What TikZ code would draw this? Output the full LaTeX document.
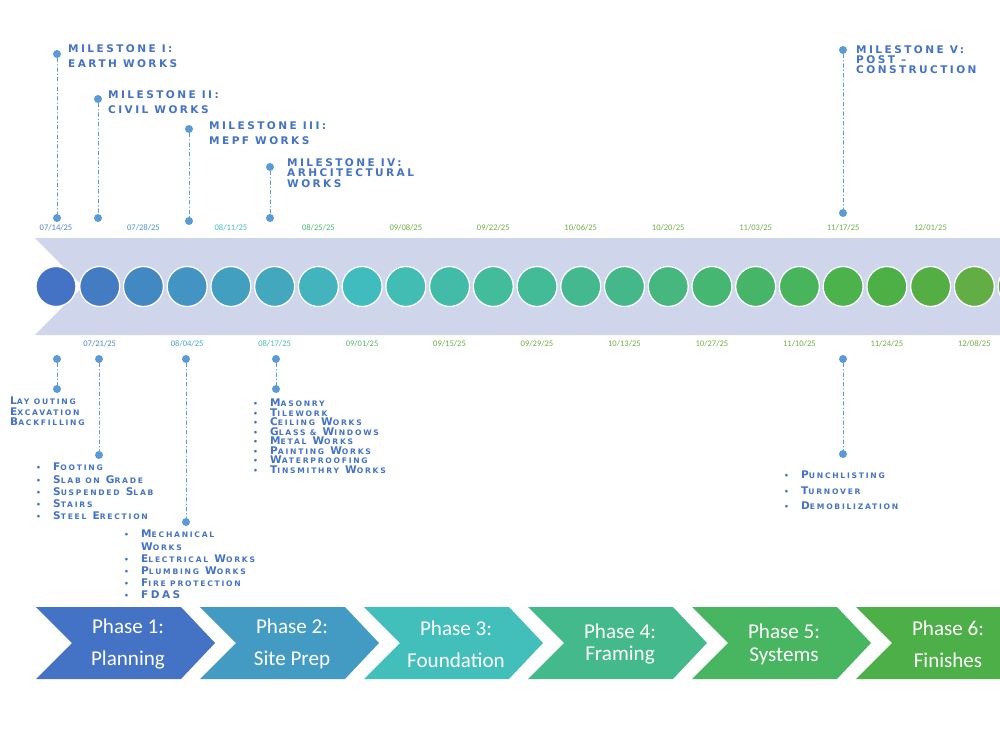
\documentclass[tikz,border=0pt]{standalone}
\usepackage{fontspec}
\setmainfont{Carlito}
\newfontfamily\msfont[LetterSpace=23]{DejaVu Sans}
\usepackage{tikz}
\usepackage{xcolor}

\definecolor{bandfill}{HTML}{CFD5EA}
\definecolor{msblue}{HTML}{5B9BD5}
\definecolor{txtblue}{HTML}{4472C4}

\newcommand\sm[1]{{\fontsize{6.5}{6.5}\selectfont #1}}
\newcommand\bul{\makebox[14.5pt][l]{\sm{\textbullet}}}
\newcommand\nob{\makebox[14.5pt][l]{}}

\begin{document}
\begin{tikzpicture}[x=0.3mm,y=-0.3mm,line cap=round,
  week/.style={circle,draw=white,line width=1.1pt,inner sep=0,minimum size=12mm},
  msdot/.style={circle,fill=msblue,inner sep=0,minimum size=2.4mm},
  link/.style={msblue,line width=0.8pt,dash pattern=on 3pt off 2.4pt on 0.4pt off 2.4pt},
  mstext/.style={anchor=north west,inner sep=0,align=left,text=txtblue,
    font=\msfont\bfseries\fontsize{9}{12.8}\selectfont},
  listtext/.style={anchor=north west,inner sep=0,align=left,text=txtblue,
    font=\msfont\bfseries\fontsize{9}{10.4}\selectfont},
  datelbl/.style={inner sep=0,font=\fontsize{7.3}{8}\selectfont},
  phasetext/.style={text=white,align=center,inner sep=0}]
\clip (0,0) rectangle (1000,750);
% timeline band
\fill[bandfill] (35,238) -- (1000,238) -- (1000,335) -- (35,335) -- (83,286.5) -- cycle;
% weekly circles
\foreach \c [count=\i from 0] in {4472C4,437CC3,4288C2,4393C3,439FBF,43A8BD,43B3BD,41BCBE,42BDB4,42BCA8,
  43BC9C,43BB96,44B990,45B889,45B77F,46B673,47B567,48B45B,4BB24C,4DB046,55AE44,62AE45,6AAE42}{
  \definecolor{wk}{HTML}{\c}
  \node[week,fill=wk] (c\i) at ({56+43.73*\i},286.5) {};
}
% dates above
\foreach \c/\d [count=\i from 0] in {4F7FC6/{07/14/25},4C94CA/{07/28/25},45BDBA/{08/11/25},4DB86E/{08/25/25},
  66B043/{09/08/25},6CAF40/{09/22/25},70AD47/{10/06/25},70AD47/{10/20/25},70AD47/{11/03/25},
  70AD47/{11/17/25},70AD47/{12/01/25}}{
  \definecolor{dt}{HTML}{\c}
  \node[datelbl,text=dt] (up\i) at ({56+87.46*\i},228) {\d};
}
% dates below
\foreach \c/\d [count=\i from 0] in {4B86C8/{07/21/25},47A5C6/{08/04/25},45BEAD/{08/17/25},53B668/{09/01/25},
  64B040/{09/15/25},70AD47/{09/29/25},70AD47/{10/13/25},70AD47/{10/27/25},70AD47/{11/10/25},
  70AD47/{11/24/25},70AD47/{12/08/25}}{
  \definecolor{dt}{HTML}{\c}
  \node[datelbl,text=dt] (dn\i) at ({99.7+87.46*\i},344) {\d};
}
% milestones
\node[msdot] (m1a) at (57,54) {};
\node[msdot] (m1b) at (57,218) {};
\draw[link] (m1a) -- (m1b);
\node[mstext] (m1) at (68,44) {MILESTONE I:\\EARTH WORKS};
\node[msdot] (m2a) at (98,99) {};
\node[msdot] (m2b) at (98,218) {};
\draw[link] (m2a) -- (m2b);
\node[mstext] (m2) at (108,90) {MILESTONE II:\\CIVIL WORKS};
\node[msdot] (m3a) at (189,129) {};
\node[msdot] (m3b) at (189,221) {};
\draw[link] (m3a) -- (m3b);
\node[mstext] (m3) at (209,121) {MILESTONE III:\\MEPF WORKS};
\node[msdot] (m4a) at (270,167) {};
\node[msdot] (m4b) at (270,218) {};
\draw[link] (m4a) -- (m4b);
\node[mstext,font=\msfont\bfseries\fontsize{9}{9}\selectfont] (m4) at (287,158) {MILESTONE IV:\\ARHCITECTURAL\\WORKS};
\node[msdot] (m5a) at (843,50) {};
\node[msdot] (m5b) at (843,213) {};
\draw[link] (m5a) -- (m5b);
\node[mstext,font=\msfont\bfseries\fontsize{9}{8.6}\selectfont] (m5) at (856,45) {MILESTONE V:\\POST \textendash\\CONSTRUCTION};
% activities
\node[msdot] (a1a) at (57,359) {};
\node[msdot] (a1b) at (57,389) {};
\draw[link] (a1a) -- (a1b);
\node[listtext,font=\msfont\bfseries\fontsize{9}{8.9}\selectfont] (a1) at (10,397)
  {L\sm{AY OUTING}\\E\sm{XCAVATION}\\B\sm{ACKFILLING}};
\node[msdot] (a2a) at (99,359) {};
\node[msdot] (a2b) at (99,455) {};
\draw[link] (a2a) -- (a2b);
\node[listtext] (a2) at (36,463)
  {\bul F\sm{OOTING}\\\bul S\sm{LAB ON} G\sm{RADE}\\\bul S\sm{USPENDED} S\sm{LAB}\\\bul S\sm{TAIRS}\\\bul S\sm{TEEL} E\sm{RECTION}};
\node[msdot] (a3a) at (186,359) {};
\node[msdot] (a3b) at (186,522) {};
\draw[link] (a3a) -- (a3b);
\node[listtext] (a3) at (124,530)
  {\bul M\sm{ECHANICAL}\\\nob W\sm{ORKS}\\\bul E\sm{LECTRICAL} W\sm{ORKS}\\\bul P\sm{LUMBING} W\sm{ORKS}\\\bul F\sm{IRE PROTECTION}\\\bul FDAS};
\node[msdot] (a4a) at (276,359) {};
\node[msdot] (a4b) at (276,389) {};
\draw[link] (a4a) -- (a4b);
\node[listtext,font=\msfont\bfseries\fontsize{9}{8.1}\selectfont] (a4) at (253,399)
  {\bul M\sm{ASONRY}\\\bul T\sm{ILEWORK}\\\bul C\sm{EILING} W\sm{ORKS}\\\bul G\sm{LASS \&} W\sm{INDOWS}\\\bul M\sm{ETAL} W\sm{ORKS}\\\bul P\sm{AINTING} W\sm{ORKS}\\\bul W\sm{ATERPROOFING}\\\bul T\sm{INSMITHRY} W\sm{ORKS}};
\node[msdot] (a5a) at (843,359) {};
\node[msdot] (a5b) at (843,454) {};
\draw[link] (a5a) -- (a5b);
\node[listtext,font=\msfont\bfseries\fontsize{9}{13.2}\selectfont] (a5) at (784,471)
  {\bul P\sm{UNCHLISTING}\\\bul T\sm{URNOVER}\\\bul D\sm{EMOBILIZATION}};
% phases
\foreach \c/\n/\s [count=\p] in {4472C4/Planning/27,439AC3/Site Prep/27,42BEBB/Foundation/27,
  44BA8C/Framing/19.5,48B560/Systems/19.5,4CAF48/Finishes/27}{
  \definecolor{ph}{HTML}{\c}
  \fill[ph] ({36+164*(\p-1)},607) -- ++(145,0) -- ++(34,36) -- ++(-34,36) -- ++(-145,0) -- ++(36,-36) -- cycle;
  \node[phasetext,font=\fontsize{18}{\s}\selectfont] (ph\p) at ({128+164*(\p-1)},644) {Phase \p:\\\n};
}
\end{tikzpicture}
\end{document}
